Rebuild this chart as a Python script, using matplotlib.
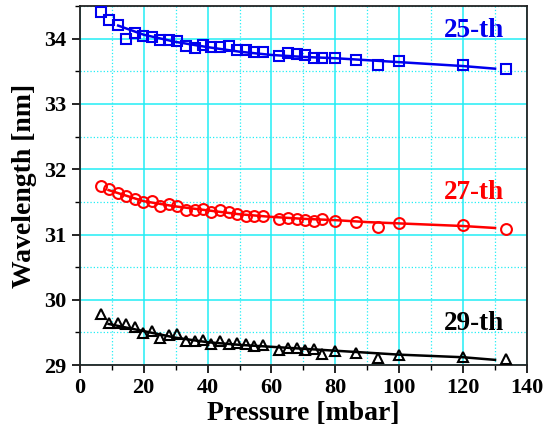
import matplotlib

matplotlib.use("Agg")
import matplotlib.pyplot as plt
from matplotlib.ticker import MultipleLocator

plt.rcParams["font.family"] = ["Liberation Serif", "DejaVu Serif"]
plt.rcParams["font.weight"] = "bold"

# pressure points (mbar), shared by all three harmonics
pressure = [6.5, 9.2, 12.0, 14.4, 17.4, 19.8, 22.6, 25.1, 27.8, 30.5,
            33.2, 36.0, 38.7, 41.2, 43.9, 46.6, 49.3, 52.0, 54.5, 57.3,
            62.5, 65.2, 67.9, 70.6, 73.4, 75.9, 80.0, 86.6, 93.2, 100.0,
            120.0, 133.3]

h25 = [34.41, 34.28, 34.21, 34.00, 34.08, 34.04, 34.03, 33.98, 33.98, 33.97,
       33.89, 33.86, 33.90, 33.87, 33.87, 33.88, 33.82, 33.83, 33.79, 33.80,
       33.73, 33.78, 33.77, 33.75, 33.70, 33.70, 33.71, 33.68, 33.59, 33.65,
       33.59, 33.54]
h27 = [31.75, 31.70, 31.63, 31.59, 31.55, 31.50, 31.51, 31.44, 31.47, 31.44,
       31.38, 31.37, 31.39, 31.35, 31.37, 31.35, 31.31, 31.29, 31.29, 31.28,
       31.23, 31.26, 31.24, 31.22, 31.21, 31.24, 31.21, 31.19, 31.12, 31.17,
       31.14, 31.08]
h29 = [29.78, 29.65, 29.65, 29.63, 29.59, 29.49, 29.52, 29.42, 29.46, 29.48,
       29.37, 29.37, 29.38, 29.33, 29.37, 29.33, 29.34, 29.32, 29.29, 29.31,
       29.23, 29.26, 29.26, 29.23, 29.24, 29.17, 29.22, 29.19, 29.11, 29.16,
       29.12, 29.09]

# fitted curves
fit25_x = [12, 20, 30, 40, 50, 60, 70, 80, 90, 100, 110, 120, 130]
fit25_y = [34.20, 34.06, 33.95, 33.87, 33.80, 33.75, 33.72, 33.70, 33.67,
           33.64, 33.61, 33.58, 33.54]
fit27_x = [9, 20, 30, 40, 50, 60, 70, 80, 90, 100, 110, 120, 130]
fit27_y = [31.68, 31.51, 31.43, 31.37, 31.31, 31.27, 31.24, 31.22, 31.19,
           31.17, 31.15, 31.13, 31.10]
fit29_x = [9, 20, 30, 40, 50, 60, 70, 80, 90, 100, 110, 120, 130]
fit29_y = [29.63, 29.52, 29.42, 29.35, 29.31, 29.28, 29.25, 29.22, 29.19,
           29.16, 29.14, 29.12, 29.08]

GRID = "#22eef5"

fig = plt.figure(figsize=(5.43, 4.28), dpi=100)
ax = fig.add_axes([0.147, 0.147, 0.8235, 0.839])

series = [
    (h25, fit25_x, fit25_y, "#0000ee", "s", 7.3, "25-th", 34.12),
    (h27, fit27_x, fit27_y, "#ff0000", "o", 7.8, "27-th", 31.64),
    (h29, fit29_x, fit29_y, "#000000", "^", 6.8, "29-th", 29.63),
]
for ys, fx, fy, col, mk, ms, lab, ly in series:
    ax.plot(fx, fy, color=col, lw=1.8, zorder=3)
    ax.plot(pressure, ys, ls="none", marker=mk, ms=ms, mfc="none",
            mec=col, mew=1.5, zorder=4)
    ax.text(123.5, ly, lab, color=col, fontsize=19.5, fontweight="bold",
            ha="center", va="center")

ax.set_xlim(0, 140)
ax.set_ylim(29, 34.5)
ax.xaxis.set_major_locator(MultipleLocator(20))
ax.xaxis.set_minor_locator(MultipleLocator(10))
ax.yaxis.set_major_locator(MultipleLocator(1))
ax.yaxis.set_minor_locator(MultipleLocator(0.5))

ax.grid(which="major", color=GRID, lw=1.1, ls="-", zorder=0)
ax.grid(which="minor", color=GRID, lw=0.9, ls=":", zorder=0)
ax.set_axisbelow(True)

ax.tick_params(which="major", direction="out", length=6, width=1.2,
               labelsize=16, top=False, right=False)
ax.tick_params(which="minor", direction="out", length=3.5, width=1.0,
               top=False, right=False)
for s in ax.spines.values():
    s.set_linewidth(1.3)
    s.set_color("#222222")

ax.set_xlabel("Pressure [mbar]", fontsize=20, fontweight="bold", labelpad=2)
ax.set_ylabel("Wavelength [nm]", fontsize=20, fontweight="bold", labelpad=5)

fig.savefig("out.png", dpi=100)
